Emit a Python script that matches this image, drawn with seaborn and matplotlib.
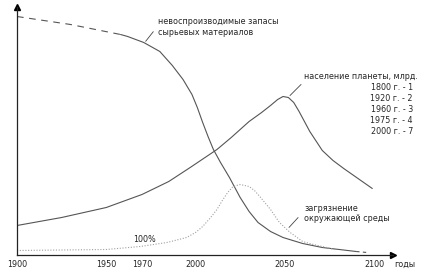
import matplotlib
matplotlib.use("Agg")
import matplotlib.pyplot as plt
import seaborn as sns
import numpy as np
import pandas as pd

# ---- data (years, arbitrary height units) ----
res_years = [1900, 1930, 1958, 1962, 1971, 1980, 1987, 1993, 1998, 2001, 2004, 2007, 2010, 2014, 2019, 2025, 2030, 2035, 2042, 2049, 2060, 2071, 2090, 2096]
res_vals  = [238, 230, 220, 218, 212, 203, 189, 175, 160, 147, 132, 118, 105, 92, 77, 57, 43, 32, 23, 17, 11, 7, 3, 2]
RES_SOLID_FROM = 1958
RES_SOLID_TO = 2090

pop_years = [1900, 1925, 1950, 1970, 1985, 1997, 2012, 2020, 2030, 2037, 2042, 2046, 2049, 2052, 2055, 2058, 2064, 2071, 2077, 2083, 2091, 2099]
pop_vals  = [29, 37, 47, 60, 73, 87, 105, 117, 133, 142, 149, 155, 158, 157, 152, 143, 123, 104, 94, 86, 76, 66]

pol_years = [1900, 1950, 1969, 1984, 1995, 2000, 2004, 2008, 2012, 2015, 2018, 2021, 2025, 2030, 2033, 2036, 2042, 2047, 2053, 2060, 2066, 2071, 2078]
pol_vals  = [4, 5, 8, 12, 17, 22, 28, 36, 45, 54, 62, 68, 70, 68, 64, 58, 45, 32, 22, 13, 10, 8, 5]

tick_years = [1900, 1950, 1970, 2000, 2050, 2100]
tick_labels = ["1900", "1950", "1970", "2000", "2050", "2100"]

res_label = "невоспроизводимые запасы\nсырьевых материалов"
pop_label = "население планеты, млрд."
pop_list = ["1800 г. - 1", "1920 г. - 2", "1960 г. - 3", "1975 г. - 4", "2000 г. - 7"]
pol_label = "загрязнение\nокружающей среды"
pct_label = "100%"
x_label = "годы"

sns.set_style("white")
plt.rcParams['font.family'] = ['DejaVu Sans']
FS = 5.8

fig = plt.figure(figsize=(4.34, 2.72), dpi=100)
ax = fig.add_axes([17/434, 17.5/272, (393-17)/434, (254.5-7)/272])
ax.set_xlim(1900, 2110.6)
ax.set_ylim(0, 247.5)

res = pd.DataFrame({"year": res_years, "v": res_vals})
pop = pd.DataFrame({"year": pop_years, "v": pop_vals})
pol = pd.DataFrame({"year": pol_years, "v": pol_vals})

curve_c = "#555555"
sns.lineplot(data=res[res.year <= RES_SOLID_FROM], x="year", y="v", ax=ax,
             color=curve_c, lw=0.8, linestyle=(0, (6, 5)))
sns.lineplot(data=res[(res.year >= RES_SOLID_FROM) & (res.year <= RES_SOLID_TO)], x="year", y="v", ax=ax,
             color=curve_c, lw=0.8)
sns.lineplot(data=res[res.year >= RES_SOLID_TO], x="year", y="v", ax=ax,
             color=curve_c, lw=0.8, linestyle=(0, (3, 3)))
sns.lineplot(data=pop, x="year", y="v", ax=ax, color=curve_c, lw=0.8)
sns.lineplot(data=pol, x="year", y="v", ax=ax, color="#a0a0a0", lw=0.8, linestyle=(0, (1, 1.5)))

# axes styling
for s in ["top", "right"]:
    ax.spines[s].set_visible(False)
for s in ["left", "bottom"]:
    ax.spines[s].set_color("#222222")
    ax.spines[s].set_linewidth(0.9)
ax.set_xlabel("")
ax.set_ylabel("")
ax.set_yticks([])
ax.set_xticks(tick_years)
ax.set_xticklabels(tick_labels, fontsize=FS)
ax.tick_params(axis="x", direction="in", length=3, width=0.8, color="#222222", pad=4)
ax.plot(1, 0, ">", transform=ax.transAxes, color="black", ms=5, clip_on=False)
ax.plot(0, 1, "^", transform=ax.transAxes, color="black", ms=5, clip_on=False)
ax.text(2117, -9.5, x_label, fontsize=FS, ha="center", va="center", clip_on=False)

# labels and leader lines
lk = dict(arrowprops=dict(arrowstyle="-", color="#444444", lw=0.6))
ax.annotate("", xy=(1971.1, 211), xytext=(1977.3, 225), **lk)
ax.text(1979, 227.5, res_label, fontsize=FS, ha="left", va="center", linespacing=1.3)

ax.annotate("", xy=(2051.8, 157), xytext=(2060.2, 172), **lk)
ax.text(2060.8, 178, pop_label, fontsize=FS, ha="left", va="center", clip_on=False)
ax.text(2121.8, 145, "\n".join(pop_list), fontsize=FS, ha="right", va="center",
        multialignment="right", linespacing=1.25, clip_on=False)

ax.annotate("", xy=(2051.3, 25), xytext=(2058.5, 39), **lk)
ax.text(2060.8, 41, pol_label, fontsize=FS, ha="left", va="center", linespacing=1.25)

ax.text(1965, 15, pct_label, fontsize=FS, ha="left", va="center")

fig.savefig("out.png", dpi=100)
